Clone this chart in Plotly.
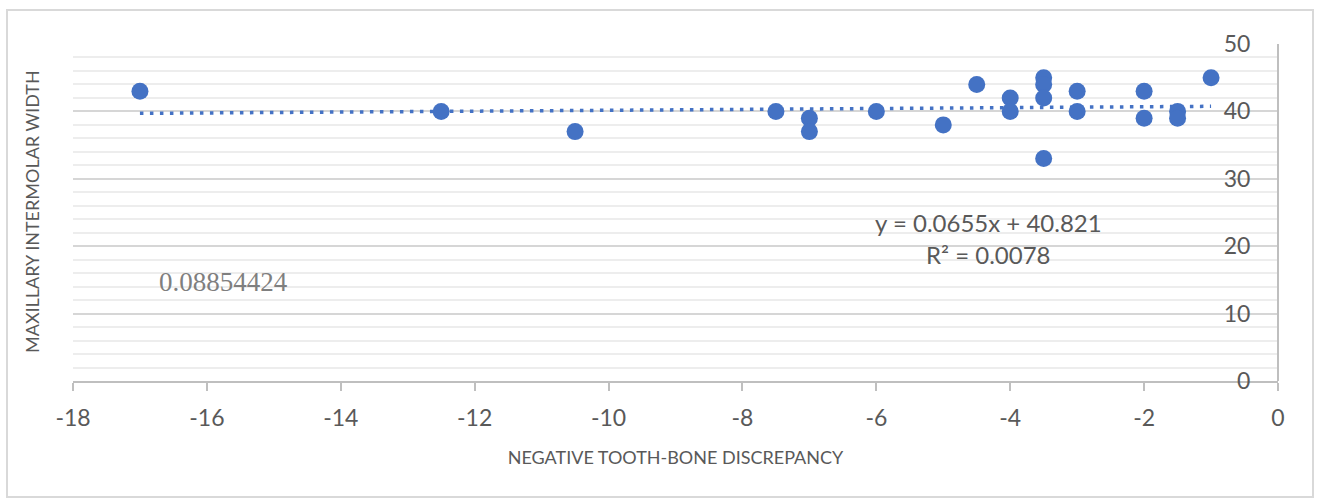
import plotly.graph_objects as go
import numpy as np

# Data
discrepancy = [-17, -12.5, -10.5, -7.5, -7, -7, -6, -5, -4.5, -4, -4,
               -3.5, -3.5, -3.5, -3.5, -3, -3, -2, -2, -1.5, -1.5, -1]
intermolar = [43, 40, 37, 40, 39, 37, 40, 38, 44, 42, 40,
              45, 44, 42, 33, 43, 40, 43, 39, 40, 39, 45]

slope = 0.0655
intercept = 40.821
r_squared = 0.0078
side_value = "0.08854424"

x_ticks = [-18, -16, -14, -12, -10, -8, -6, -4, -2, 0]
x_tick_labels = ["-18", "-16", "-14", "-12", "-10", "-8", "-6", "-4", "-2", "0"]
y_ticks = [0, 10, 20, 30, 40, 50]

BLUE = "#4472C4"
GRAY_TXT = "#595959"
AX = "#BFBFBF"

trend_x = np.array([min(discrepancy), max(discrepancy)])
trend_y = slope * trend_x + intercept

fig = go.Figure()
fig.add_trace(go.Scatter(x=trend_x, y=trend_y, mode="lines",
                         line=dict(color=BLUE, width=3.5, dash="3.5px,6.5px"),
                         hoverinfo="skip", showlegend=False))
fig.add_trace(go.Scatter(x=discrepancy, y=intermolar, mode="markers",
                         marker=dict(color=BLUE, size=17, line=dict(width=0)),
                         showlegend=False))

W, H = 1318, 501
L, R, T, B = 73, 40, 44, 120
pw, ph = W - L - R, H - T - B

def px(x):
    return (x - L) / pw

def py(y):
    return (H - B - y) / ph

fig.update_layout(
    width=W, height=H,
    margin=dict(l=L, r=R, t=T, b=B),
    paper_bgcolor="white", plot_bgcolor="white",
    font=dict(family="Lato, Carlito, sans-serif", color=GRAY_TXT),
    xaxis=dict(range=[-18, 0], tickvals=x_ticks, ticktext=x_tick_labels,
               ticks="outside", ticklen=8, ticklabelstandoff=7,
               tickcolor=AX, tickwidth=2, showline=True, linecolor=AX, linewidth=2,
               showgrid=False, zeroline=False, tickfont=dict(size=23, color=GRAY_TXT),
               title=dict(text="NEGATIVE TOOTH-BONE DISCREPANCY",
                          font=dict(size=18, color=GRAY_TXT), standoff=22)),
    yaxis=dict(range=[0, 50], tickvals=y_ticks, side="left", anchor="free", position=1,
               ticks="", ticklabelstandoff=22, showline=True, linecolor=AX, linewidth=2,
               showgrid=True, gridcolor="#D6D6D6", gridwidth=2, zeroline=False,
               tickfont=dict(size=23, color=GRAY_TXT),
               minor=dict(dtick=2, showgrid=True, gridcolor="#EDEDED", gridwidth=1.5)),
    shapes=[dict(type="rect", xref="paper", yref="paper",
                 x0=px(7), x1=px(1313), y0=py(497), y1=py(10),
                 line=dict(color="#D9D9D9", width=2), layer="below")],
    annotations=[
        dict(text="MAXILLARY INTERMOLAR WIDTH", xref="paper", yref="paper",
             x=px(32), y=py(212), xanchor="center", yanchor="middle",
             textangle=-90, showarrow=False,
             font=dict(size=18, color=GRAY_TXT)),
        dict(text=f"y = {slope}x + {intercept}", xref="paper", yref="paper",
             x=px(988), y=py(222), xanchor="center", yanchor="middle", showarrow=False,
             font=dict(size=24, color=GRAY_TXT)),
        dict(text=f"R² = {r_squared}", xref="paper", yref="paper",
             x=px(988), y=py(254), xanchor="center", yanchor="middle", showarrow=False,
             font=dict(size=24, color=GRAY_TXT)),
        dict(text=side_value, xref="paper", yref="paper",
             x=px(223), y=py(282), xanchor="center", yanchor="middle", showarrow=False,
             font=dict(size=27, color="#7F7F7F",
                       family="Liberation Serif, Times New Roman, serif")),
    ],
)

fig.write_html("out.html")
